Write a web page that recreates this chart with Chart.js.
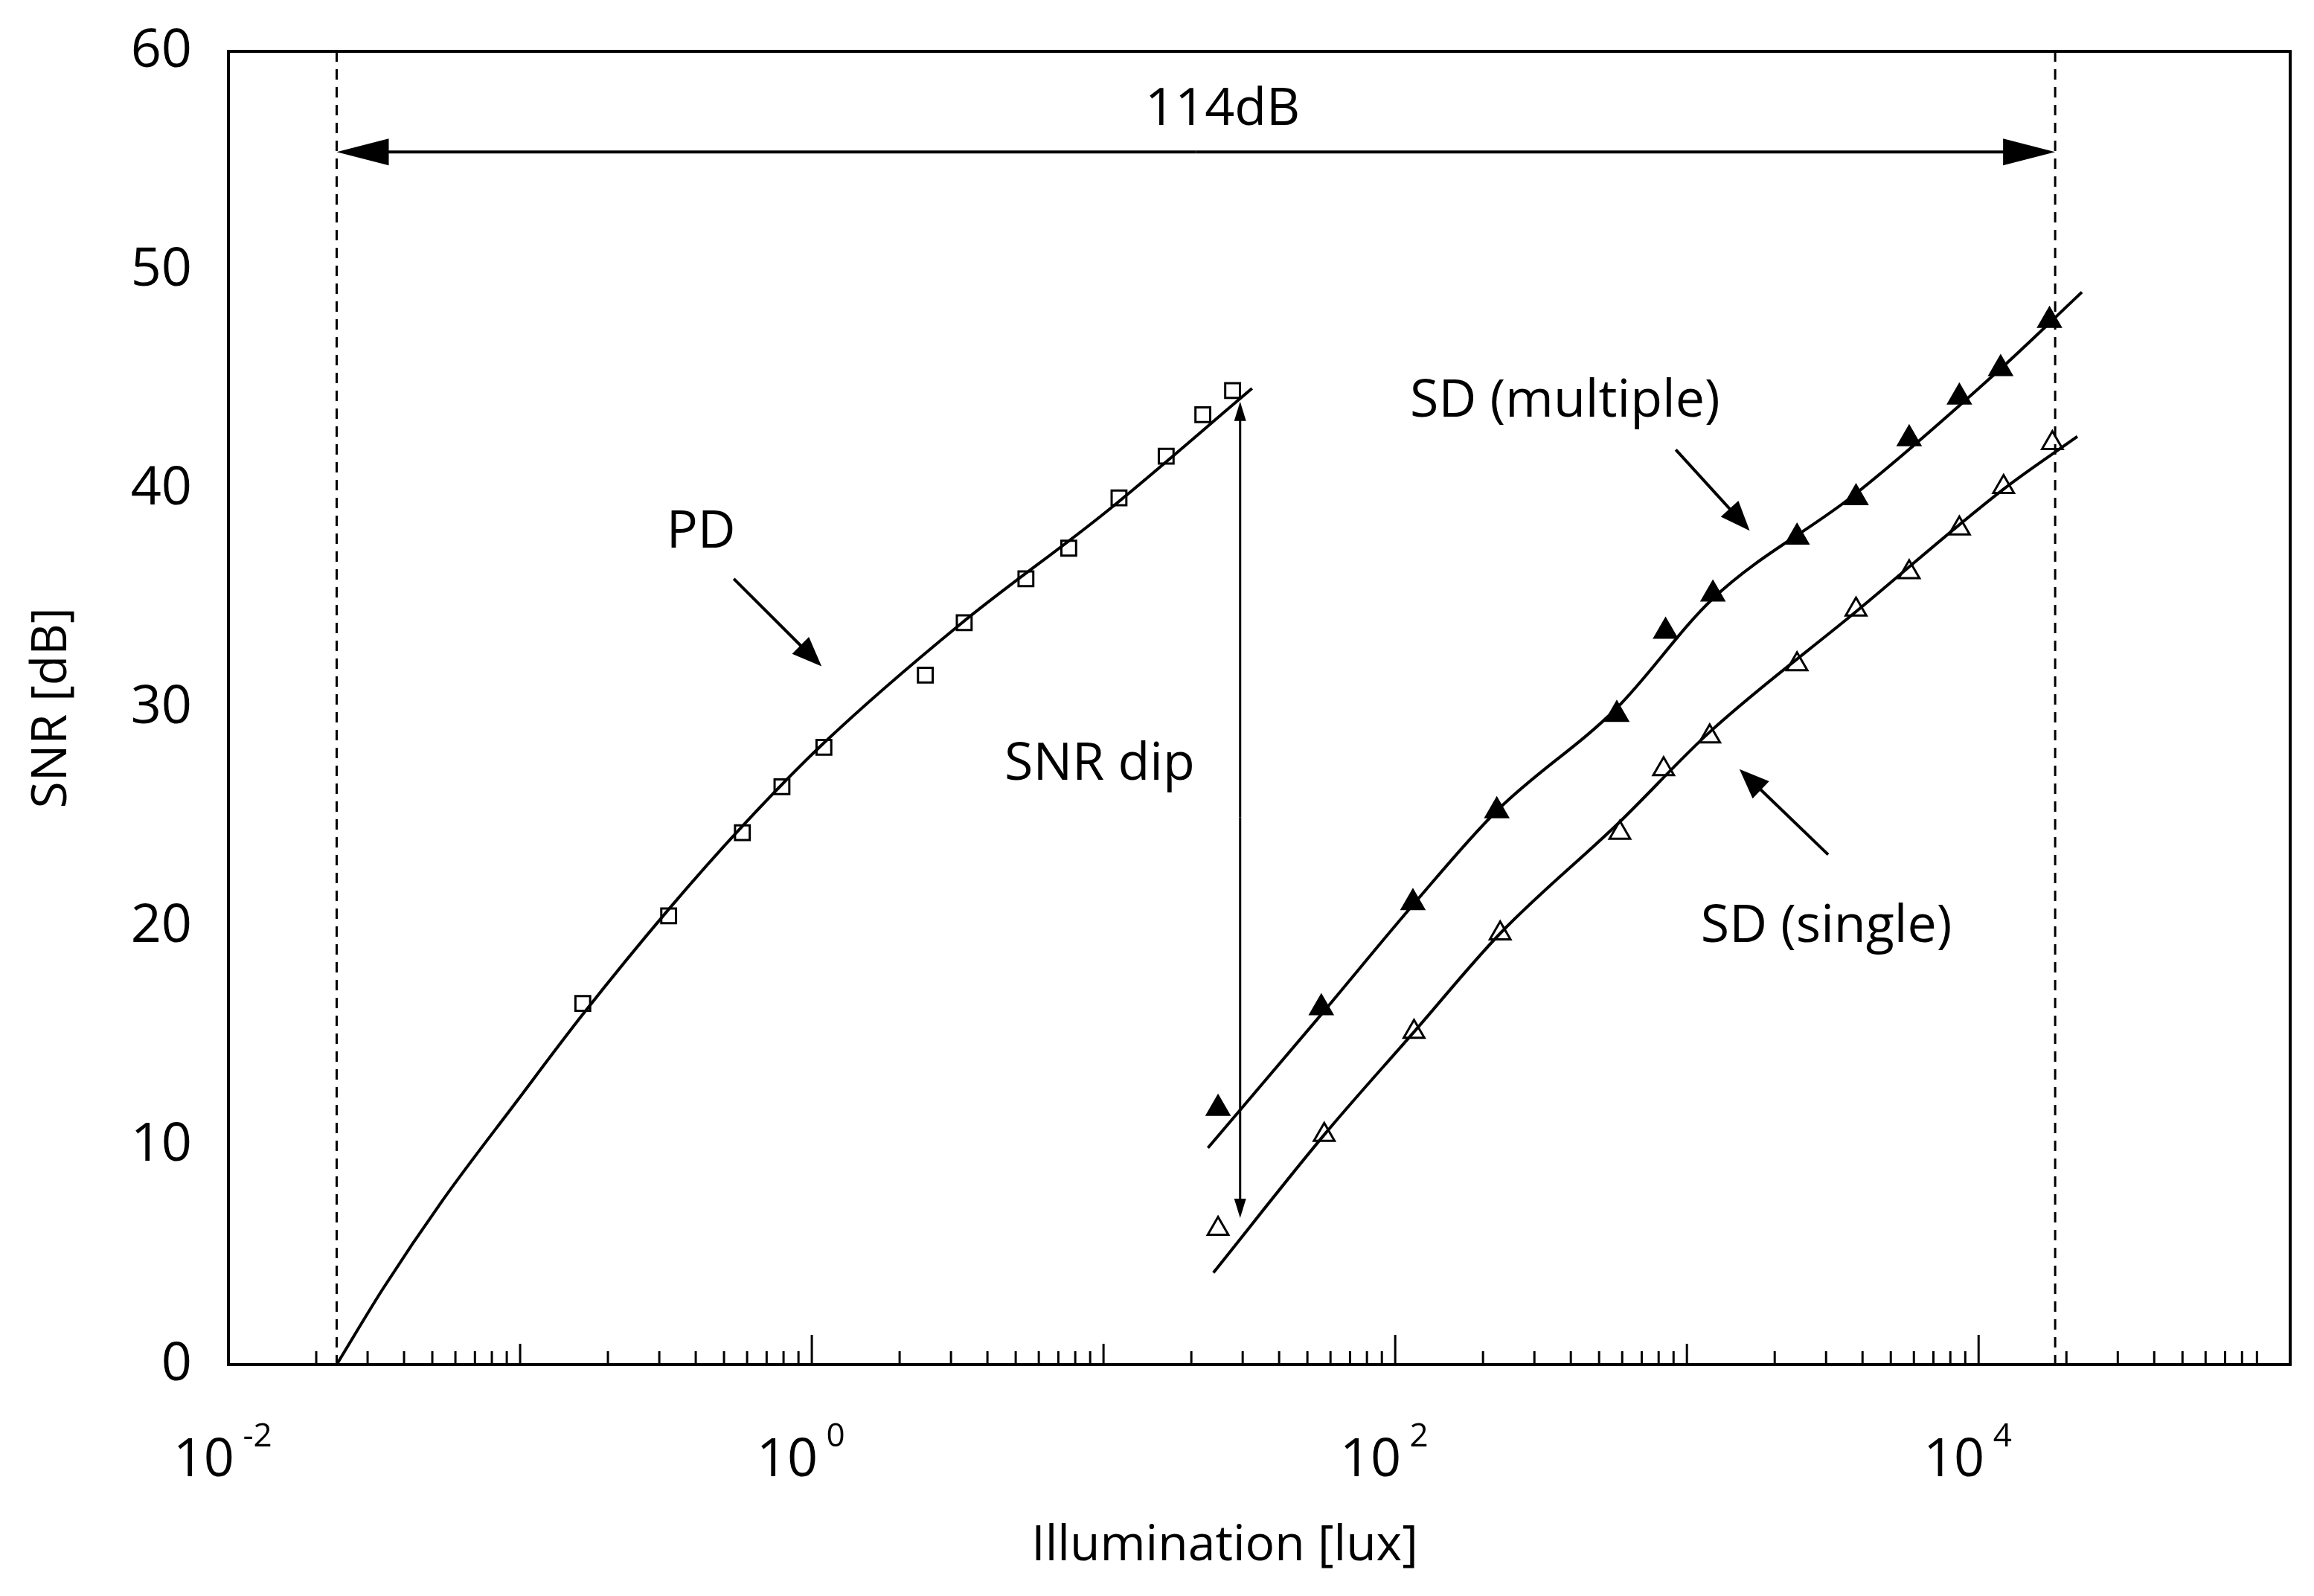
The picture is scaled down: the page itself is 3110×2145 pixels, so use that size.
<!DOCTYPE html>
<html><head><meta charset="utf-8">
<script src="https://cdn.jsdelivr.net/npm/chart.js@4/dist/chart.umd.min.js"></script>
<style>html,body{margin:0;background:#fff}#w{width:3110px;height:2145px}</style>
</head><body><div id="w"><canvas id="c"></canvas></div>
<script>
const pdX=[0.164,0.323,0.578,0.79,1.1,2.45,3.33,5.42,7.6,11.3,16.4,21.9,27.7];
const pdY=[16.5,20.5,24.3,26.4,28.2,31.5,33.9,35.9,37.3,39.6,41.5,43.4,44.5];
const pdFitX=[0.0235,0.034,0.0542,0.097,0.164,0.323,0.578,1.1,3.21,10.3,32.3];
const pdFitY=[0,3.5,7.5,12.0,16.0,20.8,24.6,28.4,33.8,39.0,44.6];
const sdmX=[24.7,55.8,115,223,575,845,1228,2385,3800,5780,8590,11900,17500];
const sdmY=[11.7,16.3,21.1,25.3,29.7,33.5,35.2,37.8,39.6,42.3,44.2,45.5,47.7];
const sdmFitX=[22.8,55.8,115,223,575,1228,3800,11900,22600];
const sdmFitY=[9.9,16.0,21.0,25.3,30.0,35.0,39.8,45.5,49.0];
const sdsX=[24.7,57.1,116,229,589,832,1197,2385,3800,5780,8590,12180,17900];
const sdsY=[6.2,10.5,15.2,19.7,24.3,27.2,28.7,32.0,34.5,36.2,38.2,40.1,42.1];
const sdsFitX=[23.8,57.1,116,229,589,1197,3800,12180,21800];
const sdsFitY=[4.2,10.5,15.2,19.7,24.8,28.9,34.4,40.0,42.4];
const yTicks=[0,10,20,30,40,50,60];
const xTickExp=[-2,0,2,4];
const limitX=[0.0235,18300];
const pts=(xs,ys)=>xs.map((x,i)=>({x,y:ys[i]}));
const F='"Open Sans", "Liberation Sans", sans-serif';

function arrow(ctx,x1,y1,x2,y2,len,wid){
  const a=Math.atan2(y2-y1,x2-x1);
  ctx.beginPath();ctx.moveTo(x1,y1);ctx.lineTo(x2-Math.cos(a)*len*0.8,y2-Math.sin(a)*len*0.8);ctx.stroke();
  ctx.beginPath();ctx.moveTo(x2,y2);
  ctx.lineTo(x2-Math.cos(a)*len+Math.sin(a)*wid,y2-Math.sin(a)*len-Math.cos(a)*wid);
  ctx.lineTo(x2-Math.cos(a)*len-Math.sin(a)*wid,y2-Math.sin(a)*len+Math.cos(a)*wid);
  ctx.closePath();ctx.fill();
}
const deco={id:'deco',afterDraw(ch){
  const c=ch.ctx,a=ch.chartArea,xs=ch.scales.x,ys=ch.scales.y;
  const X=v=>xs.getPixelForValue(v),Y=v=>ys.getPixelForValue(v);
  c.save();c.strokeStyle='#000';c.fillStyle='#000';c.lineWidth=4;
  c.strokeRect(a.left,a.top,a.right-a.left,a.bottom-a.top);
  c.lineWidth=3;
  for(let e=-2;e<5;e++)for(let m=1;m<10;m++){const v=m*Math.pow(10,e);const p=X(v);if(p>a.right)continue;
    const L=m===1?(e%2===0?40:28):18;c.beginPath();c.moveTo(p,a.bottom);c.lineTo(p,a.bottom-L);c.stroke();}
  c.font='72px '+F;c.textBaseline='alphabetic';
  xTickExp.forEach(e=>{const p=X(Math.pow(10,e));c.textAlign='right';c.fillText('10',p+8,a.bottom+150);
    c.font='44px '+F;c.textAlign='left';c.fillText(' '+e,p+8,a.bottom+110);c.font='72px '+F;});
  c.textAlign='right';c.textBaseline='middle';
  yTicks.forEach(v=>{c.fillText(String(v),258,Y(v));});
  c.font='66px '+F;c.textAlign='center';c.fillText('Illumination [lux]',1646,2078);
  c.save();c.translate(70,(a.top+a.bottom)/2);c.rotate(-Math.PI/2);c.fillText('SNR [dB]',0,0);c.restore();
  c.setLineDash([14,10]);c.lineWidth=3;
  limitX.forEach(v=>{c.beginPath();c.moveTo(X(v),a.top);c.lineTo(X(v),a.bottom);c.stroke();});
  c.setLineDash([]);c.lineWidth=4;
  const yA=Y(55.4),x1=X(limitX[0]),x2=X(limitX[1]),mid=(x1+x2)/2;
  arrow(c,mid,yA,x1,yA,70,18);arrow(c,mid,yA,x2,yA,70,18);
  c.font='70px '+F;c.textBaseline='middle';c.fillText('114dB',X(25.6),Y(57.3));
  c.lineWidth=3;const xd=X(29.4);
  arrow(c,xd,Y(25),xd,Y(44),26,8);arrow(c,xd,Y(25),xd,Y(6.7),26,8);
  c.fillText('SNR dip',X(9.7),Y(27.4));
  c.lineWidth=4;
  c.fillText('PD',X(0.417),Y(38.0));arrow(c,X(0.54),Y(35.9),X(1.08),Y(31.9),40,16);
  c.fillText('SD (multiple)',X(382),Y(44.0));arrow(c,X(916),Y(41.8),X(1641),Y(38.1),40,16);
  c.fillText('SD (single)',X(3006),Y(20.0));arrow(c,X(3050),Y(23.3),X(1514),Y(27.2),40,16);
  c.restore();
}};
const line=(d)=>({type:'line',data:d,borderColor:'#000',borderWidth:4,pointRadius:0,showLine:true,fill:false,cubicInterpolationMode:'monotone'});
const mk=(d,style,fill,r)=>({type:'scatter',data:d,pointStyle:style,pointRadius:r,borderColor:'#000',borderWidth:3,pointBackgroundColor:fill,showLine:false});
new Chart(document.getElementById('c'),{
  data:{datasets:[
    line(pts(pdFitX,pdFitY)),line(pts(sdmFitX,sdmFitY)),line(pts(sdsFitX,sdsFitY)),
    mk(pts(pdX,pdY),'rect','#fff',14),mk(pts(sdmX,sdmY),'triangle','#000',17),mk(pts(sdsX,sdsY),'triangle','#fff',16)]},
  options:{responsive:true,maintainAspectRatio:false,animation:false,devicePixelRatio:1,
    layout:{padding:{left:307,right:32,top:69,bottom:311}},
    plugins:{legend:{display:false},tooltip:{enabled:false}},
    scales:{x:{type:'logarithmic',min:0.01,max:117000,display:false},
            y:{type:'linear',min:0,max:60,display:false}}},
  plugins:[deco]});
</script></body></html>
